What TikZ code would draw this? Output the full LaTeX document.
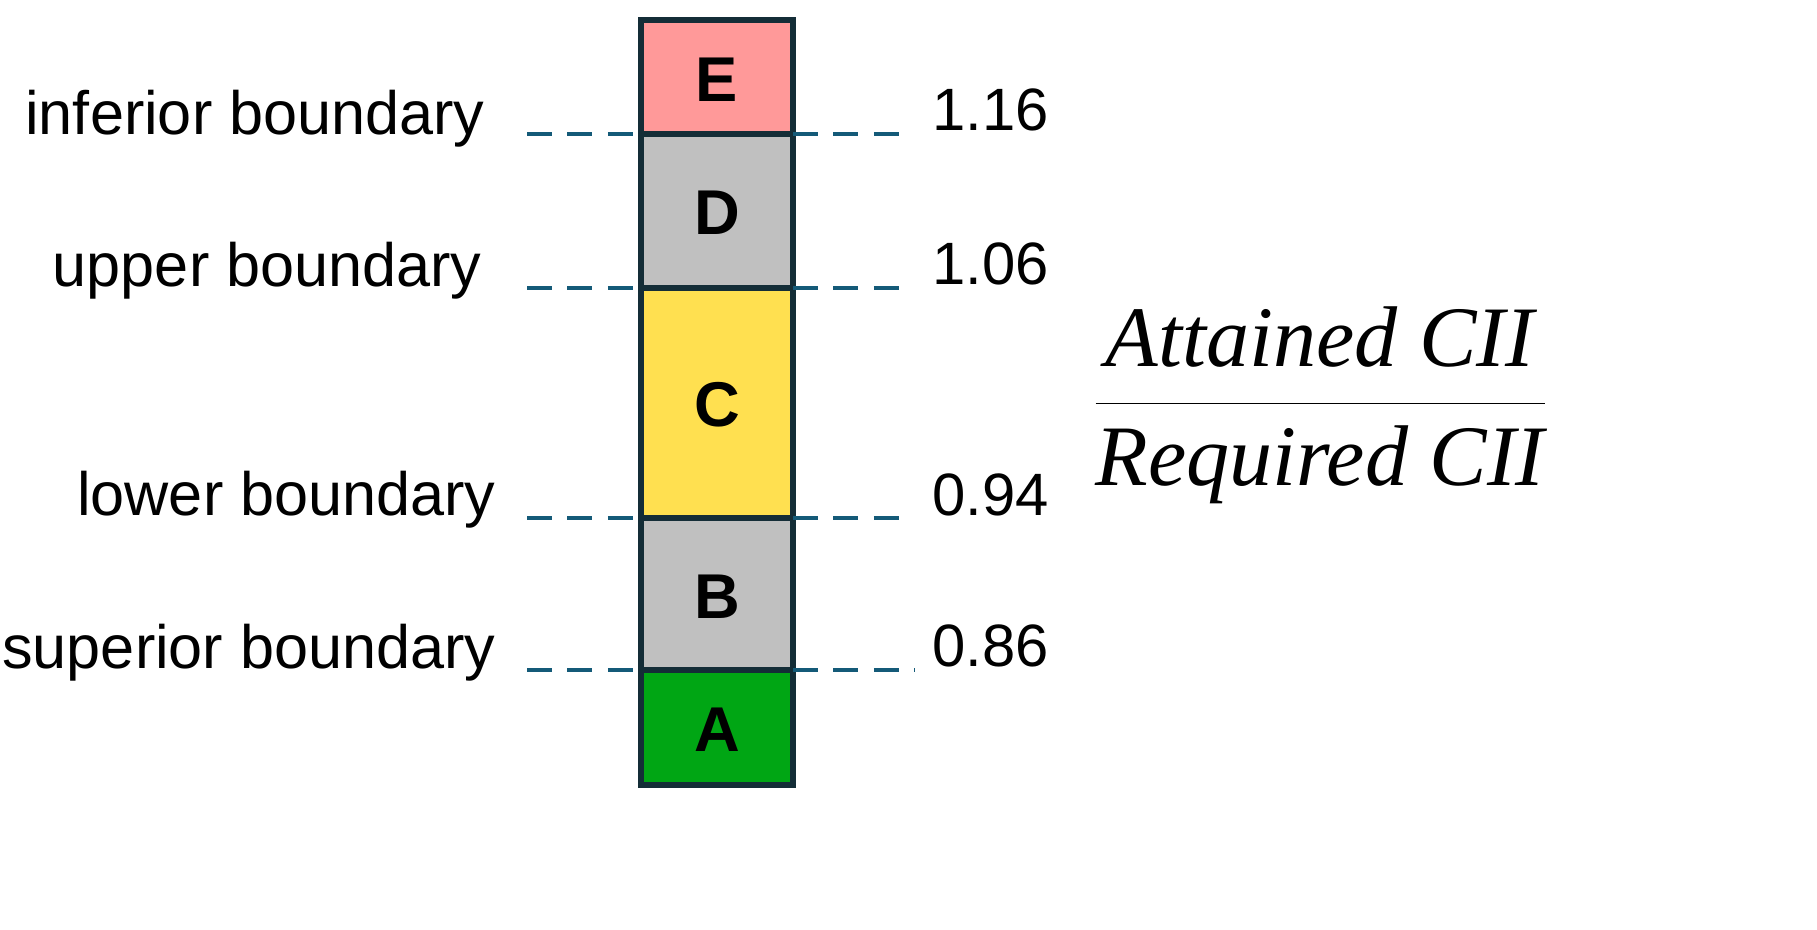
\documentclass[tikz,border=0pt]{standalone}
\usepackage{fontspec}
\setmainfont{Liberation Sans}
\newfontfamily\mathlikefont{Liberation Serif}
\definecolor{dteal}{RGB}{20,90,120}
\definecolor{edge}{RGB}{20,45,55}
\definecolor{cE}{RGB}{255,153,153}
\definecolor{cD}{RGB}{192,192,192}
\definecolor{cC}{RGB}{255,224,80}
\definecolor{cA}{RGB}{0,166,20}
\begin{document}
\begin{tikzpicture}[x=0.01cm,y=-0.01cm,
  band/.style={draw=edge,line width=1.6pt},
  grade/.style={font=\fontsize{18}{20}\selectfont\bfseries},
  lab/.style={font=\fontsize{17.4}{20}\selectfont,anchor=base east},
  val/.style={font=\fontsize{17}{20}\selectfont,anchor=base west},
  dl/.style={draw=dteal,line width=1.2pt,dash pattern=on 7pt off 4.5pt}]
\useasboundingbox (0,0) rectangle (1817,930);
\fill[cE] (641,20) rectangle (793,134);
\fill[cD] (641,134) rectangle (793,288);
\fill[cC] (641,288) rectangle (793,518);
\fill[cD] (641,518) rectangle (793,670);
\fill[cA] (641,670) rectangle (793,785);
\draw[band] (641,20) rectangle (793,785);
\foreach \y in {134,288,518,670} \draw[band] (641,\y) -- (793,\y);
\node[grade] (E) at (717,80) {E};
\node[grade] (D) at (717,213) {D};
\node[grade] (C) at (717,405) {C};
\node[grade] (B) at (717,597) {B};
\node[grade] (A) at (717,730) {A};
\coordinate (l1) at (527,134); \coordinate (m1) at (641,134); \coordinate (n1) at (793,134); \coordinate (r1) at (905,134);
\coordinate (l2) at (527,288); \coordinate (m2) at (641,288); \coordinate (n2) at (793,288); \coordinate (r2) at (905,288);
\coordinate (l3) at (527,518); \coordinate (m3) at (641,518); \coordinate (n3) at (793,518); \coordinate (r3) at (905,518);
\coordinate (l4) at (527,670); \coordinate (m4) at (641,670); \coordinate (n4) at (793,670); \coordinate (r4) at (915,670);
\foreach \i in {1,2,3,4} {\draw[dl] (l\i) -- (m\i); \draw[dl] (n\i) -- (r\i);}
\node[lab] (t1) at (497,134) {inferior boundary};
\node[lab] (t2) at (494,286) {upper boundary};
\node[lab] (t3) at (508,515) {lower boundary};
\node[lab] (t4) at (508,668) {superior boundary};
\node[val] (v1) at (920,130) {1.16};
\node[val] (v2) at (920,284) {1.06};
\node[val] (v3) at (920,515) {0.94};
\node[val] (v4) at (920,666) {0.86};
\node (frac) at (1320,405) {\fontsize{24.5}{28}\selectfont$\displaystyle\frac{\textit{\mathlikefont Attained CII}}{\textit{\mathlikefont Required CII}}$};
\end{tikzpicture}
\end{document}
